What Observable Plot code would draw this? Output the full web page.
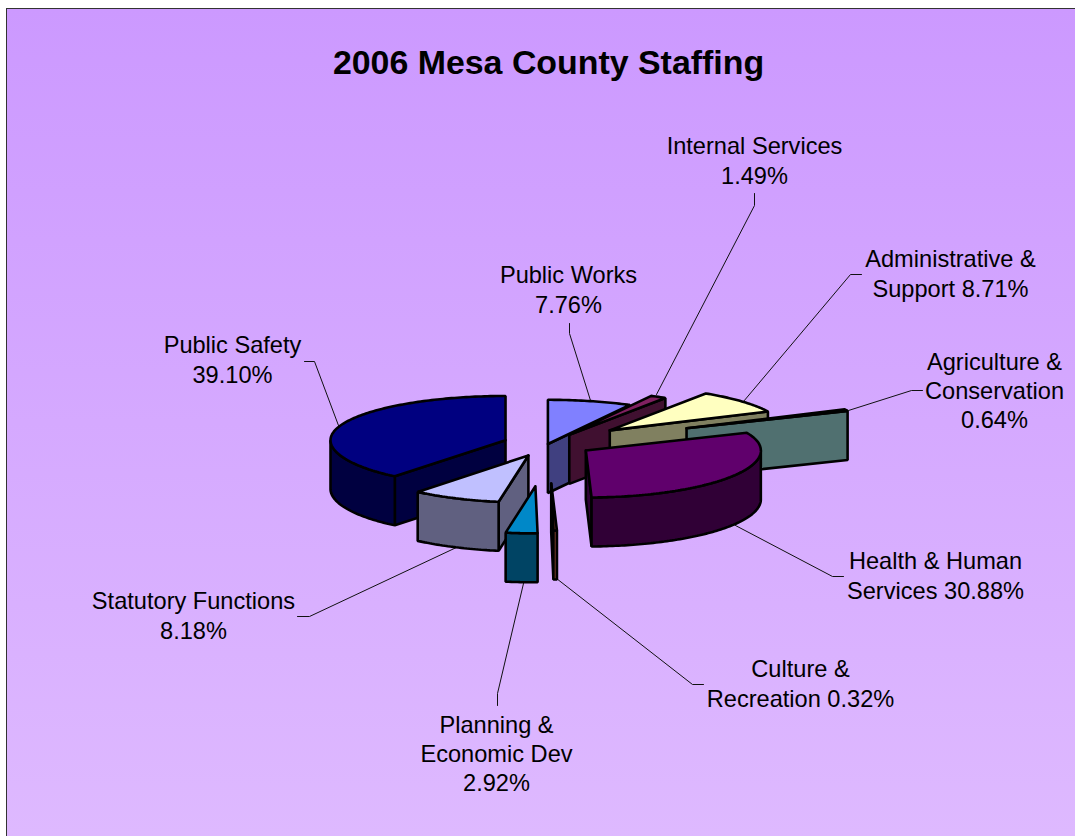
<!DOCTYPE html>
<html><head><meta charset="utf-8">
<style>
html,body{margin:0;padding:0;background:#fff;overflow:hidden}
#panel{position:absolute;left:6px;top:8px;right:0;bottom:0;border-left:1.5px solid #333;border-top:1.5px solid #333;background:linear-gradient(#CC99FF,#DEB9FF)}
#chart{position:absolute;left:0;top:0;width:1075px;height:836px}
</style>
<script src="https://cdn.jsdelivr.net/npm/d3@7"></script>
<script src="https://cdn.jsdelivr.net/npm/@observablehq/plot@0.6"></script>
</head><body>
<div id="panel"></div><div id="chart"></div>
<script>
// Data, clockwise from 12 o'clock
const categories = ["Public Works","Internal Services","Administrative & Support","Agriculture & Conservation","Health & Human Services","Culture & Recreation","Planning & Economic Dev","Statutory Functions","Public Safety"];
const shares = [7.76,1.49,8.71,0.64,30.88,0.32,2.92,8.18,39.10];
const explode = [0,42,82,152,45,147,158,47,45];
const topColors = ["#8080FF","#802060","#FFFFC0","#A0E0E0","#60006C","#603020","#0088C8","#C0C0FF","#000080"];
const wallColors = ["#404080","#401030","#808060","#507070","#300036","#804030","#004464","#606080","#000040"];
const drawOrder = [8,0,1,2,3,4,7,6,5];

// Labels
const labelText = ["Public Works\n7.76%","Internal Services\n1.49%","Administrative &\nSupport 8.71%","Agriculture &\nConservation\n0.64%","Health & Human\nServices 30.88%","Culture &\nRecreation 0.32%","Planning &\nEconomic Dev\n2.92%","Statutory Functions\n8.18%","Public Safety\n39.10%"];
const labelX = [568,754,950,994,935,800,496,193,232];
const labelY = [288,159,272,389,574,682,752,614,358];
const leaders = [
  [[569,323],[569,333],[590,400]],
  [[754,193],[754,205],[656,394]],
  [[861,274],[850,274],[743,401]],
  [[922,390],[911,390],[848,410]],
  [[843,576],[832,576],[735,525]],
  [[703,684],[692,684],[556,578]],
  [[497,705],[497,693],[523,583]],
  [[297,616],[309,616],[458,546]],
  [[304,361],[314,361],[338,425]]
];

// Pie geometry derived from the shares
const cx = 547.4, cy = 443.5, R = 175, tilt = 0.2686, depth = 49, backSquash = 0.94;
const rad = d => d * Math.PI / 180;
const warp = y => y < cy ? cy + (y - cy) * backSquash : y;
const total = d3.sum(shares);
let acc = 0;
const slices = shares.map((s,i) => { const a0 = acc/total*360; acc += s; return {i,a0,a1:acc/total*360}; });

function faces(sl){
  const {i,a0,a1} = sl, mid = (a0+a1)/2;
  const ax = cx + explode[i]*Math.sin(rad(mid));
  const ay = cy - explode[i]*Math.cos(rad(mid))*tilt;
  const rim = a => [ax + R*Math.sin(rad(a)), warp(ay - R*tilt*Math.cos(rad(a)))];
  const drop = p => [p[0], p[1]+depth];
  const out = [];
  const apex = [ax,warp(ay)];
  if (Math.sin(rad(a0)) < 0) { const r=rim(a0); out.push({c:wallColors[i],p:[apex,r,drop(r),drop(apex)]}); }
  if (Math.sin(rad(a1)) > 0) { const r=rim(a1); out.push({c:wallColors[i],p:[apex,r,drop(r),drop(apex)]}); }
  const fa0 = Math.max(a0,90), fa1 = Math.min(a1,270);
  if (fa1 > fa0) {
    const n = Math.max(2,Math.ceil(fa1-fa0)), arc = d3.range(n+1).map(k=>rim(fa0+(fa1-fa0)*k/n));
    out.push({c:wallColors[i],p:[...arc,...arc.slice().reverse().map(drop)]});
  }
  const n = Math.max(2,Math.ceil(a1-a0));
  out.push({c:topColors[i],p:[apex,...d3.range(n+1).map(k=>rim(a0+(a1-a0)*k/n))]});
  return out;
}
const poly = [];
drawOrder.forEach(i => faces(slices[i]).forEach((f,j) => {
  const id = i+"-"+j;
  [...f.p,f.p[0]].forEach(q => poly.push({id,x:q[0],y:q[1],fill:f.c}));
}));
const leaderRows = leaders.flatMap((l,i)=>l.map(q=>({i,x:q[0],y:q[1]})));
const labels = labelText.map((t,i)=>({t,x:labelX[i],y:labelY[i]}));

const chart = Plot.plot({
  width:1075,height:836,margin:0,
  style:{background:"transparent",fontFamily:"'Liberation Sans',Arial,sans-serif"},
  x:{domain:[0,1075],range:[0,1075],axis:null},
  y:{domain:[0,836],range:[0,836],axis:null},
  marks:[
    Plot.line(leaderRows,{x:"x",y:"y",z:"i",stroke:"#111",strokeWidth:1}),
    Plot.line(poly,{x:"x",y:"y",z:"id",fill:"fill",stroke:"#000",strokeWidth:2.6,strokeLinejoin:"miter",curve:"linear"}),
    Plot.text(labels,{x:"x",y:"y",text:"t",fontSize:23.6,lineHeight:1.243,fill:"#000",textAnchor:"middle"}),
    Plot.text(["2006 Mesa County Staffing"],{x:()=>548,y:()=>63,fontSize:33.9,fontWeight:"bold",fill:"#000",textAnchor:"middle"})
  ]
});
document.getElementById("chart").appendChild(chart);
</script>
</body></html>
